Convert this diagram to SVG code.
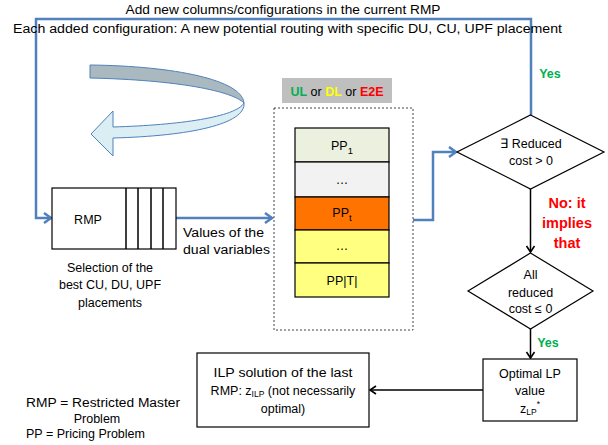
<svg xmlns="http://www.w3.org/2000/svg" width="608" height="445" viewBox="0 0 608 445">
<style>
text{font-family:"Liberation Sans",Arial,sans-serif;fill:#000;font-size:12.5px}
.c{text-anchor:middle}
.box{fill:#fff;stroke:#000;stroke-width:1.2}
.blue{fill:none;stroke:#4f81bd;stroke-width:2.5}
.blk{fill:none;stroke:#000;stroke-width:1.5}
.red{fill:#ff0000;font-weight:bold;font-size:14.5px}
.grn{fill:#00b050;font-weight:bold}
.row{stroke:#000;stroke-width:1.2}
</style>
<defs>
<marker id="ab" markerUnits="userSpaceOnUse" markerWidth="14" markerHeight="14" refX="10" refY="6" orient="auto">
<path d="M3,1 L10,6 L3,11" fill="none" stroke="#4f81bd" stroke-width="2.5"/>
</marker>
<marker id="ak" markerUnits="userSpaceOnUse" markerWidth="12" markerHeight="12" refX="8" refY="5" orient="auto">
<path d="M2,1 L8,5 L2,9" fill="none" stroke="#000" stroke-width="1.6"/>
</marker>
</defs>
<rect width="608" height="445" fill="#fff"/>

<g id="connectors">
<path class="blue" d="M531,115 V19 H36 V218 H51" marker-end="url(#ab)"/>
<path class="blue" d="M176,218 H272" marker-end="url(#ab)"/>
<path class="blue" d="M413,220 H433 V152 H456" marker-end="url(#ab)"/>
<path class="blk" d="M530.5,189 V252" marker-end="url(#ak)"/>
<path class="blk" d="M530.5,329 V358" marker-end="url(#ak)"/>
<path class="blk" d="M483,390 H370" marker-end="url(#ak)"/>
</g>

<g id="title">
<text class="c" x="283" y="14" font-size="13.5" textLength="315" lengthAdjust="spacingAndGlyphs">Add new columns/configurations in the current RMP</text>
<text x="13" y="33" font-size="13.5" textLength="549" lengthAdjust="spacingAndGlyphs">Each added configuration: A new potential routing with specific DU, CU, UPF placement</text>
</g>

<g id="yes-top"><text class="c grn" x="550" y="78" font-size="13.5">Yes</text></g>

<g id="curved-arrow">
<path d="M90,65 C175,66 242,80 244,103 C232,91 178,80 90,78 Z" fill="#aab8bf" stroke="#4f81bd" stroke-width="1"/>
<path d="M244,103 C246,124 190,136 113,138 L113,156 L91,134 L113,111 L113,127 C180,125 236,117 244,103 Z" fill="#dbeef4" stroke="#4f81bd" stroke-width="1"/>
</g>

<g id="rmp">
<rect class="box" x="52" y="188" width="124" height="61"/>
<path d="M126,188 V249 M138,188 V249 M151,188 V249 M163,188 V249" stroke="#000" stroke-width="1.5"/>
<text class="c" x="88" y="224" font-size="13">RMP</text>
<text class="c" x="110" y="272" font-size="13.5">Selection of the</text>
<text class="c" x="110" y="289" font-size="13.5">best CU, DU, UPF</text>
<text class="c" x="110" y="307" font-size="13.5">placements</text>
</g>

<g id="dual-label">
<text x="183" y="237" font-size="13.5" textLength="81" lengthAdjust="spacingAndGlyphs">Values of the</text>
<text x="183" y="254" font-size="13.5" textLength="87" lengthAdjust="spacingAndGlyphs">dual variables</text>
</g>

<g id="link-label">
<rect x="282" y="78" width="110" height="25" fill="#bfbfbf"/>
<text class="c" x="337" y="96" font-size="13.5"><tspan class="grn">UL</tspan> or <tspan font-weight="bold" fill="#ffff00">DL</tspan> or <tspan font-weight="bold" fill="#ff0000">E2E</tspan></text>
</g>

<g id="pricing">
<rect x="274" y="108" width="139" height="222" fill="none" stroke="#444" stroke-width="1" stroke-dasharray="2,2"/>
<rect class="row" x="295" y="128" width="94" height="34" fill="#ebf1de"/>
<rect class="row" x="295" y="162" width="94" height="35" fill="#f2f2f2"/>
<rect class="row" x="295" y="197" width="94" height="33" fill="#ff7300"/>
<rect class="row" x="295" y="230" width="94" height="33" fill="#ffff80"/>
<rect class="row" x="295" y="263" width="94" height="34" fill="#ffff80"/>
<text class="c" x="342" y="150" font-size="14">PP<tspan font-size="9.5" dy="4">1</tspan></text>
<text class="c" x="342" y="184" font-size="10">…</text>
<text class="c" x="342" y="217" font-size="14">PP<tspan font-size="9.5" dy="4">t</tspan></text>
<text class="c" x="342" y="250" font-size="10">…</text>
<text class="c" x="342" y="285" font-size="14">PP|T|</text>
</g>

<g id="reduced-cost">
<polygon points="530.5,115 604,152 530.5,189 457,152" fill="#fff" stroke="#000" stroke-width="1.2"/>
<text class="c" x="531" y="148" font-size="12">∃ Reduced</text>
<text class="c" x="531" y="165" font-size="12">cost &gt; 0</text>
</g>

<g id="no-label">
<text class="c red" x="567" y="208">No: it</text>
<text class="c red" x="567" y="228">implies</text>
<text class="c red" x="567" y="248">that</text>
</g>

<g id="all-reduced">
<polygon points="530.5,253 593,291 530.5,329 468,291" fill="#fff" stroke="#000" stroke-width="1.2"/>
<text class="c" x="530.5" y="279" font-size="12">All</text>
<text class="c" x="530.5" y="297" font-size="12">reduced</text>
<text class="c" x="530.5" y="313" font-size="12">cost ≤ 0</text>
</g>

<g id="yes-bottom"><text class="c grn" x="548" y="347" font-size="13.5">Yes</text></g>

<g id="optimal-lp">
<rect class="box" x="483" y="359" width="94" height="62"/>
<text class="c" x="530" y="378" font-size="13.5">Optimal LP</text>
<text class="c" x="530" y="395" font-size="13.5">value</text>
<text class="c" x="530" y="413" font-size="13.5">z<tspan font-size="8.5" dy="2">LP</tspan><tspan font-size="8.5" dy="-8">*</tspan></text>
</g>

<g id="ilp">
<rect class="box" x="197" y="353" width="172" height="74"/>
<text class="c" x="283" y="377" font-size="14" textLength="139" lengthAdjust="spacingAndGlyphs">ILP solution of the last</text>
<text class="c" x="283" y="395" font-size="14">RMP: z<tspan font-size="8.5" dy="2">ILP</tspan><tspan dy="-2"> (not necessarily</tspan></text>
<text class="c" x="283" y="413" font-size="14">optimal)</text>
</g>

<g id="legend">
<text x="26" y="407" font-size="14" textLength="154" lengthAdjust="spacingAndGlyphs">RMP = Restricted Master</text>
<text class="c" x="97" y="423" font-size="14">Problem</text>
<text x="26" y="438" font-size="14">PP = Pricing Problem</text>
</g>
</svg>
